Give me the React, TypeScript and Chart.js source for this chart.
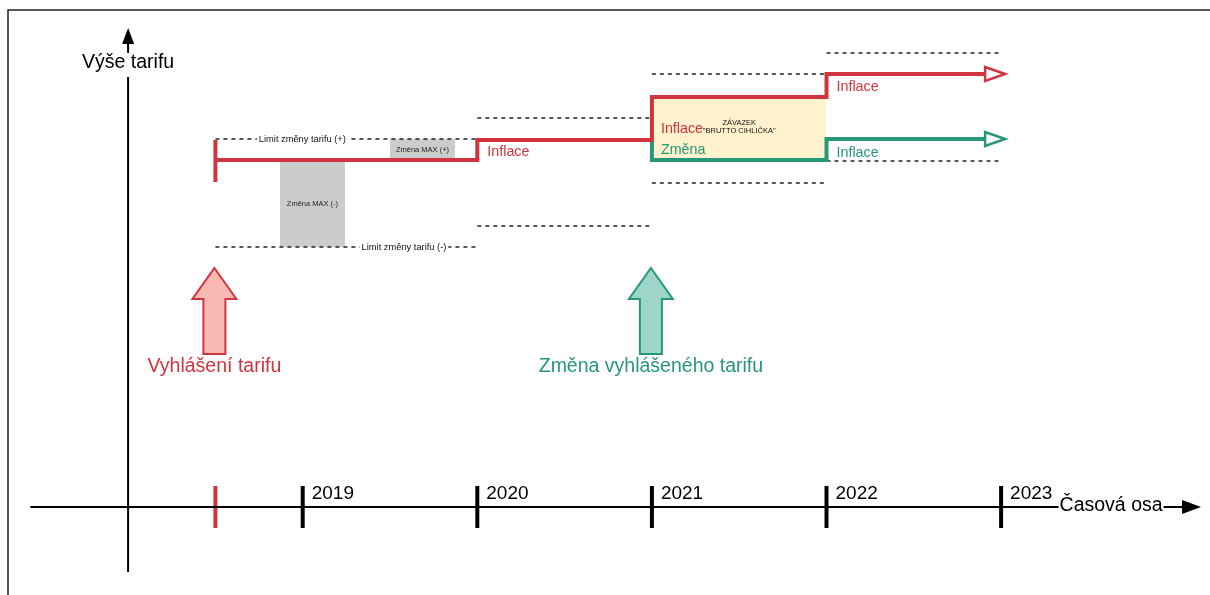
import React, { useEffect, useRef } from "react";
import { Chart, registerables } from "chart.js";

Chart.register(...registerables);

// ---------- data (years on x, tariff level in arbitrary units on y) ----------
const X_MIN = 2017.2663;
const X_MAX = 2024.1964;
const Y_MIN = -88;
const Y_MAX = 507;

const yearTicks = [2019, 2020, 2021, 2022, 2023];
const yearLabels = ["2019", "2020", "2021", "2022", "2023"];
const announceYear = 2018.5;
const changeYear = 2021;

const tariffYears = [2018.5, 2020, 2021, 2022, 2023];
const tariffLevels = [347, 367, 410, 433, 433];
const changedYears = [2021, 2021, 2022, 2023];
const changedLevels = [367, 347, 368, 368];
const startMark = [325, 367];

const limitFrom = [2018.5, 2020, 2021, 2022];
const limitTo = [2020, 2021, 2022, 2023];
const upperLimits = [368, 389, 433, 454];
const lowerLimits = [260, 281, 324, 346];

const maxBoxLabels = ["Změna MAX (-)", "Změna MAX (+)"];
const maxBoxFrom = [2018.87, 2019.5];
const maxBoxTo = [2019.242, 2019.872];
const maxBoxBottom = [260, 347];
const maxBoxTop = [346, 368];

const commitFrom = 2021;
const commitTo = 2022;
const commitTop = 410;
const commitBottom = 347;

const axisStart = 2017.44;
const axisLabelAt = 2023.335;
const axisEnd = 2024.145;
const yAxisAt = 2018;
const yAxisBottom = -65;
const yAxisTop = 430;
const yAxisLabelAt = 444;
const yAxisTip = 479;

const RED = "#d1343f";
const GREEN = "#27977a";
const FONT = '"Liberation Sans", Arial, sans-serif';

const seg = (x0: number, x1: number, y0: number, y1: number) => [
  { x: x0, y: y0 },
  { x: x1, y: y1 },
];

const diagramPlugin = {
  id: "diagram",
  afterDatasetsDraw(chart: any) {
    const { ctx, scales } = chart;
    const X = (v: number) => scales.x.getPixelForValue(v);
    const Y = (v: number) => scales.y.getPixelForValue(v);
    ctx.save();

    // page frame
    ctx.strokeStyle = "#222";
    ctx.lineWidth = 1.5;
    ctx.beginPath();
    ctx.moveTo(8, 595);
    ctx.lineTo(8, 10);
    ctx.lineTo(1210, 10);
    ctx.stroke();

    const text = (
      s: string,
      x: number,
      y: number,
      size: number,
      color: string,
      align: CanvasTextAlign = "left"
    ) => {
      ctx.font = `${size}px ${FONT}`;
      ctx.fillStyle = color;
      ctx.textAlign = align;
      ctx.textBaseline = "middle";
      ctx.fillText(s, x, y);
    };

    // time axis
    const y0 = Y(0);
    ctx.strokeStyle = "#000";
    ctx.lineWidth = 2;
    ctx.beginPath();
    ctx.moveTo(X(axisStart), y0);
    ctx.lineTo(X(axisLabelAt) - 1, y0);
    ctx.stroke();
    ctx.font = `19.5px ${FONT}`;
    const lblW = ctx.measureText("Časová osa").width;
    text("Časová osa", X(axisLabelAt), y0 - 1, 19.5, "#000");
    const tip = X(axisEnd);
    ctx.beginPath();
    ctx.moveTo(X(axisLabelAt) + lblW + 1, y0);
    ctx.lineTo(tip - 18, y0);
    ctx.stroke();
    ctx.fillStyle = "#000";
    ctx.beginPath();
    ctx.moveTo(tip, y0);
    ctx.lineTo(tip - 19, y0 - 7);
    ctx.lineTo(tip - 19, y0 + 7);
    ctx.closePath();
    ctx.fill();

    // year labels
    yearTicks.forEach((yr, i) => text(yearLabels[i], X(yr) + 9, y0 - 13, 19, "#000"));

    // value axis
    const ax = X(yAxisAt);
    ctx.beginPath();
    ctx.moveTo(ax, Y(yAxisBottom));
    ctx.lineTo(ax, Y(yAxisTop));
    ctx.moveTo(ax, Y(yAxisLabelAt + 10));
    ctx.lineTo(ax, Y(yAxisLabelAt + 22));
    ctx.stroke();
    ctx.beginPath();
    ctx.moveTo(ax, Y(yAxisTip));
    ctx.lineTo(ax - 6, Y(yAxisTip - 16));
    ctx.lineTo(ax + 6, Y(yAxisTip - 16));
    ctx.closePath();
    ctx.fill();
    text("Výše tarifu", ax, Y(yAxisLabelAt), 19.5, "#000", "center");

    // open arrowheads at the end of the tariff lines
    const head = (x: number, y: number, color: string) => {
      ctx.beginPath();
      ctx.moveTo(x + 4, y);
      ctx.lineTo(x - 16, y - 7);
      ctx.lineTo(x - 16, y + 7);
      ctx.closePath();
      ctx.fillStyle = "#fff";
      ctx.fill();
      ctx.strokeStyle = color;
      ctx.lineWidth = 2.5;
      ctx.stroke();
    };
    head(X(tariffYears[tariffYears.length - 1]), Y(tariffLevels[tariffLevels.length - 1]), RED);
    head(X(changedYears[changedYears.length - 1]), Y(changedLevels[changedLevels.length - 1]), GREEN);

    // limit labels
    const limitLabel = (s: string, cx: number, cy: number) => {
      ctx.font = `9.3px ${FONT}`;
      const w = ctx.measureText(s).width;
      ctx.fillStyle = "#fff";
      ctx.fillRect(cx - w / 2 - 2, cy - 6, w + 4, 12);
      text(s, cx, cy, 9.3, "#111", "center");
    };
    limitLabel("Limit změny tarifu (+)", X(2018.998), Y(upperLimits[0]));
    limitLabel("Limit změny tarifu (-)", X(2019.58), Y(lowerLimits[0]));

    // max change box labels
    maxBoxLabels.forEach((s, i) =>
      text(
        s,
        X((maxBoxFrom[i] + maxBoxTo[i]) / 2),
        Y((maxBoxBottom[i] + maxBoxTop[i]) / 2),
        7.5,
        "#222",
        "center"
      )
    );

    // commitment box labels
    const cmx = X((commitFrom + commitTo) / 2);
    text("ZÁVAZEK", cmx, Y(commitTop) + 26, 7.5, "#111", "center");
    text("\"BRUTTO CIHLIČKA\"", cmx, Y(commitTop) + 34, 7.5, "#111", "center");

    // inflation / change labels
    text("Inflace", X(2020) + 10, Y(tariffLevels[1]) + 12, 14.3, RED);
    text("Inflace", X(2021) + 9, Y(commitTop) + 32, 14.3, RED);
    text("Změna", X(2021) + 9, Y(commitBottom) - 10, 14.3, GREEN);
    text("Inflace", X(2022) + 10, Y(tariffLevels[3]) + 13, 14.3, RED);
    text("Inflace", X(2022) + 10, Y(changedLevels[2]) + 14, 14.3, GREEN);

    // big event arrows
    const bigArrow = (cx: number, fill: string, stroke: string) => {
      ctx.beginPath();
      ctx.moveTo(cx, Y(239));
      ctx.lineTo(cx + 22, Y(208));
      ctx.lineTo(cx + 11, Y(208));
      ctx.lineTo(cx + 11, Y(153));
      ctx.lineTo(cx - 11, Y(153));
      ctx.lineTo(cx - 11, Y(208));
      ctx.lineTo(cx - 22, Y(208));
      ctx.closePath();
      ctx.fillStyle = fill;
      ctx.fill();
      ctx.strokeStyle = stroke;
      ctx.lineWidth = 2;
      ctx.stroke();
    };
    bigArrow(X(announceYear) - 1, "#f9bab3", RED);
    bigArrow(X(changeYear) - 1, "#9dd6c8", GREEN);
    text("Vyhlášení tarifu", X(announceYear) - 1, Y(140), 19.5, RED, "center");
    text("Změna vyhlášeného tarifu", X(changeYear) - 1, Y(140), 19.5, GREEN, "center");

    ctx.restore();
  },
};

export default function App() {
  const ref = useRef<HTMLCanvasElement | null>(null);

  useEffect(() => {
    if (!ref.current) return;
    const datasets: any[] = [];

    // red tariff
    datasets.push({
      data: tariffYears.map((x, i) => ({ x, y: tariffLevels[i] })),
      stepped: true,
      borderColor: RED,
      borderWidth: 4,
      pointRadius: 0,
      fill: false,
      order: 1,
    });
    // green changed tariff
    datasets.push({
      data: changedYears.map((x, i) => ({ x, y: changedLevels[i] })),
      stepped: true,
      borderColor: GREEN,
      borderWidth: 4,
      pointRadius: 0,
      fill: false,
      order: 2,
    });
    // start mark
    datasets.push({
      data: seg(announceYear, announceYear, startMark[0], startMark[1]),
      borderColor: RED,
      borderWidth: 4,
      pointRadius: 0,
      fill: false,
      order: 1,
    });
    // limits
    limitFrom.forEach((x0, i) => {
      [upperLimits[i], lowerLimits[i]].forEach((lv) =>
        datasets.push({
          data: seg(x0, limitTo[i], lv, lv),
          borderColor: "#000",
          borderWidth: 1.3,
          borderDash: [4, 4],
          pointRadius: 0,
          fill: false,
          order: 3,
        })
      );
    });
    // max change boxes
    maxBoxFrom.forEach((x0, i) =>
      datasets.push({
        data: seg(x0, maxBoxTo[i], maxBoxTop[i], maxBoxTop[i]),
        borderWidth: 0,
        borderColor: "rgba(0,0,0,0)",
        backgroundColor: "#cccccc",
        fill: { value: maxBoxBottom[i] },
        pointRadius: 0,
        order: 8,
      })
    );
    // commitment box
    datasets.push({
      data: seg(commitFrom, commitTo, commitTop, commitTop),
      borderWidth: 0,
      borderColor: "rgba(0,0,0,0)",
      backgroundColor: "#fff2cc",
      fill: { value: commitBottom },
      pointRadius: 0,
      order: 9,
    });
    // year ticks
    datasets.push({
      data: yearTicks.map((x) => ({ x, y: 0 })),
      showLine: false,
      pointStyle: "line",
      rotation: 90,
      pointRadius: 21,
      pointBorderWidth: 4,
      pointBorderColor: "#000",
      borderColor: "#000",
      order: 0,
    });
    datasets.push({
      data: [{ x: announceYear, y: 0 }],
      showLine: false,
      pointStyle: "line",
      rotation: 90,
      pointRadius: 21,
      pointBorderWidth: 4,
      pointBorderColor: RED,
      borderColor: RED,
      order: 0,
    });

    const chart = new Chart(ref.current, {
      type: "line",
      data: { datasets },
      options: {
        animation: false,
        responsive: false,
        maintainAspectRatio: false,
        devicePixelRatio: 1,
        events: [],
        layout: { padding: 0, autoPadding: false },
        plugins: {
          legend: { display: false },
          tooltip: { enabled: false },
        },
        scales: {
          x: { type: "linear", display: false, min: X_MIN, max: X_MAX },
          y: { type: "linear", display: false, min: Y_MIN, max: Y_MAX },
        },
      },
      plugins: [diagramPlugin],
    });
    return () => chart.destroy();
  }, []);

  return (
    <div style={{ position: "fixed", left: 0, top: 0, width: 1210, height: 595, background: "#fff" }}>
      <canvas ref={ref} width={1210} height={595} style={{ display: "block" }} />
    </div>
  );
}
